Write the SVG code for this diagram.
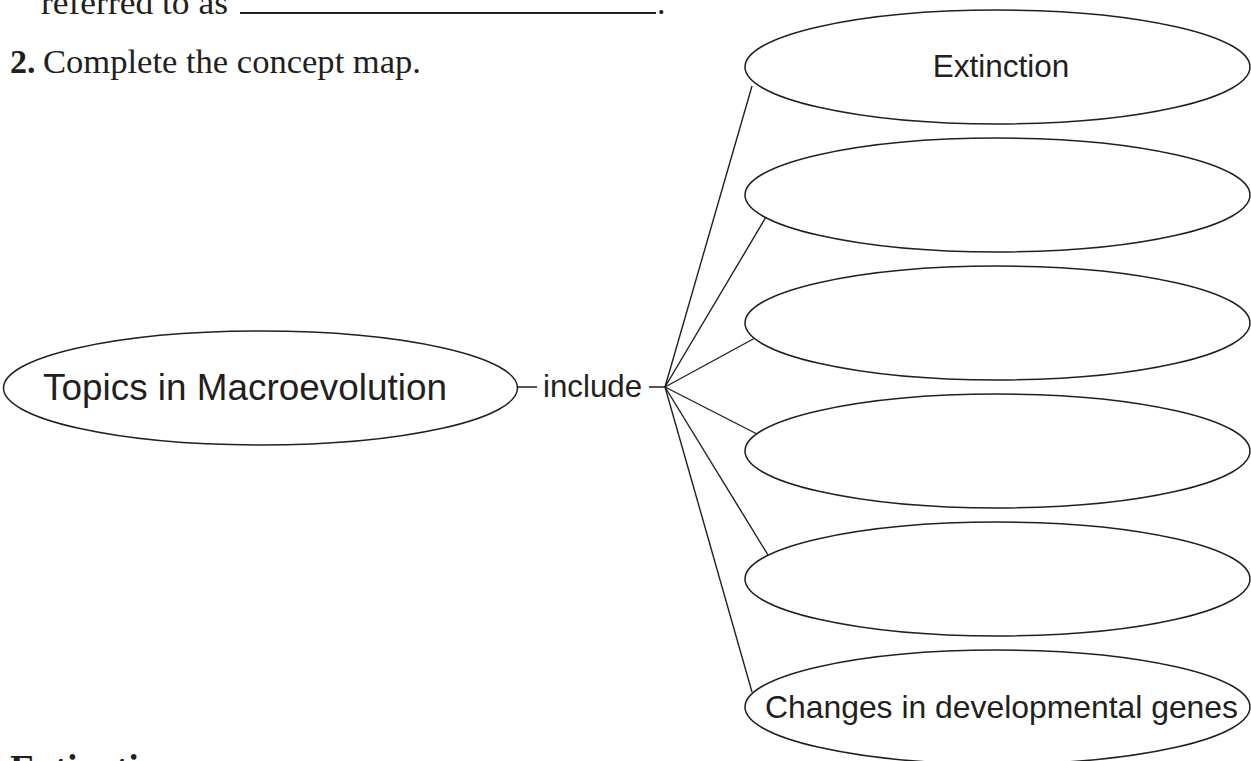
<svg xmlns="http://www.w3.org/2000/svg" width="1251" height="761" viewBox="0 0 1251 761">
<style>
.bg{fill:#ffffff}
.node{fill:#ffffff;stroke:#231f20;stroke-width:1.5}
.lbl{font-family:"Liberation Sans",Arial,Helvetica,sans-serif;fill:#231f20}
.serif{font-family:"Liberation Serif","Times New Roman",serif;fill:#231f20}
.conn{stroke:#231f20;stroke-width:1.4;fill:none}
.short{stroke:#555;stroke-width:2;fill:none}
</style>
<rect class="bg" x="0" y="0" width="1251" height="761"/>
<g id="page-text">
<text class="serif" x="41" y="14" font-size="34" textLength="187" lengthAdjust="spacingAndGlyphs">referred to as</text>
<line x1="240" y1="13" x2="656" y2="13" stroke="#231f20" stroke-width="2"/>
<text class="serif" x="657" y="14" font-size="34">.</text>
<text class="serif" x="10" y="73" font-size="34" font-weight="bold">2.</text>
<text class="serif" x="43" y="73" font-size="34" textLength="378" lengthAdjust="spacingAndGlyphs">Complete the concept map.</text>
<text class="serif" x="10" y="781" font-size="38" font-weight="bold">Extinction</text>
</g>
<g id="connectors">
<line class="short" x1="518" y1="387" x2="537" y2="387"/>
<line class="short" x1="649" y1="387" x2="665" y2="387"/>
<line class="conn" x1="665" y1="387" x2="752" y2="86"/>
<line class="conn" x1="665" y1="387" x2="766" y2="217"/>
<line class="conn" x1="665" y1="387" x2="755" y2="338"/>
<line class="conn" x1="665" y1="387" x2="757" y2="434"/>
<line class="conn" x1="665" y1="387" x2="768" y2="555"/>
<line class="conn" x1="665" y1="387" x2="752" y2="692"/>
<text class="lbl" x="543" y="397" font-size="32" textLength="99" lengthAdjust="spacingAndGlyphs">include</text>
</g>
<g id="topics">
<ellipse class="node" cx="260.5" cy="388" rx="257" ry="57"/>
<text class="lbl" x="43" y="400" font-size="36" textLength="404" lengthAdjust="spacingAndGlyphs">Topics in Macroevolution</text>
</g>
<g id="extinction">
<ellipse class="node" cx="997.5" cy="67" rx="252.5" ry="57"/>
<text class="lbl" x="1001" y="77" font-size="31.5" text-anchor="middle">Extinction</text>
</g>
<g id="blank1">
<ellipse class="node" cx="997.5" cy="195" rx="252.5" ry="57"/>
</g>
<g id="blank2">
<ellipse class="node" cx="997.5" cy="323" rx="252.5" ry="57"/>
</g>
<g id="blank3">
<ellipse class="node" cx="997.5" cy="451" rx="252.5" ry="57"/>
</g>
<g id="blank4">
<ellipse class="node" cx="997.5" cy="579" rx="252.5" ry="57"/>
</g>
<g id="developmental">
<ellipse class="node" cx="997.5" cy="707" rx="252.5" ry="57"/>
<text class="lbl" x="765" y="718" font-size="32" textLength="473" lengthAdjust="spacingAndGlyphs">Changes in developmental genes</text>
</g>
</svg>
